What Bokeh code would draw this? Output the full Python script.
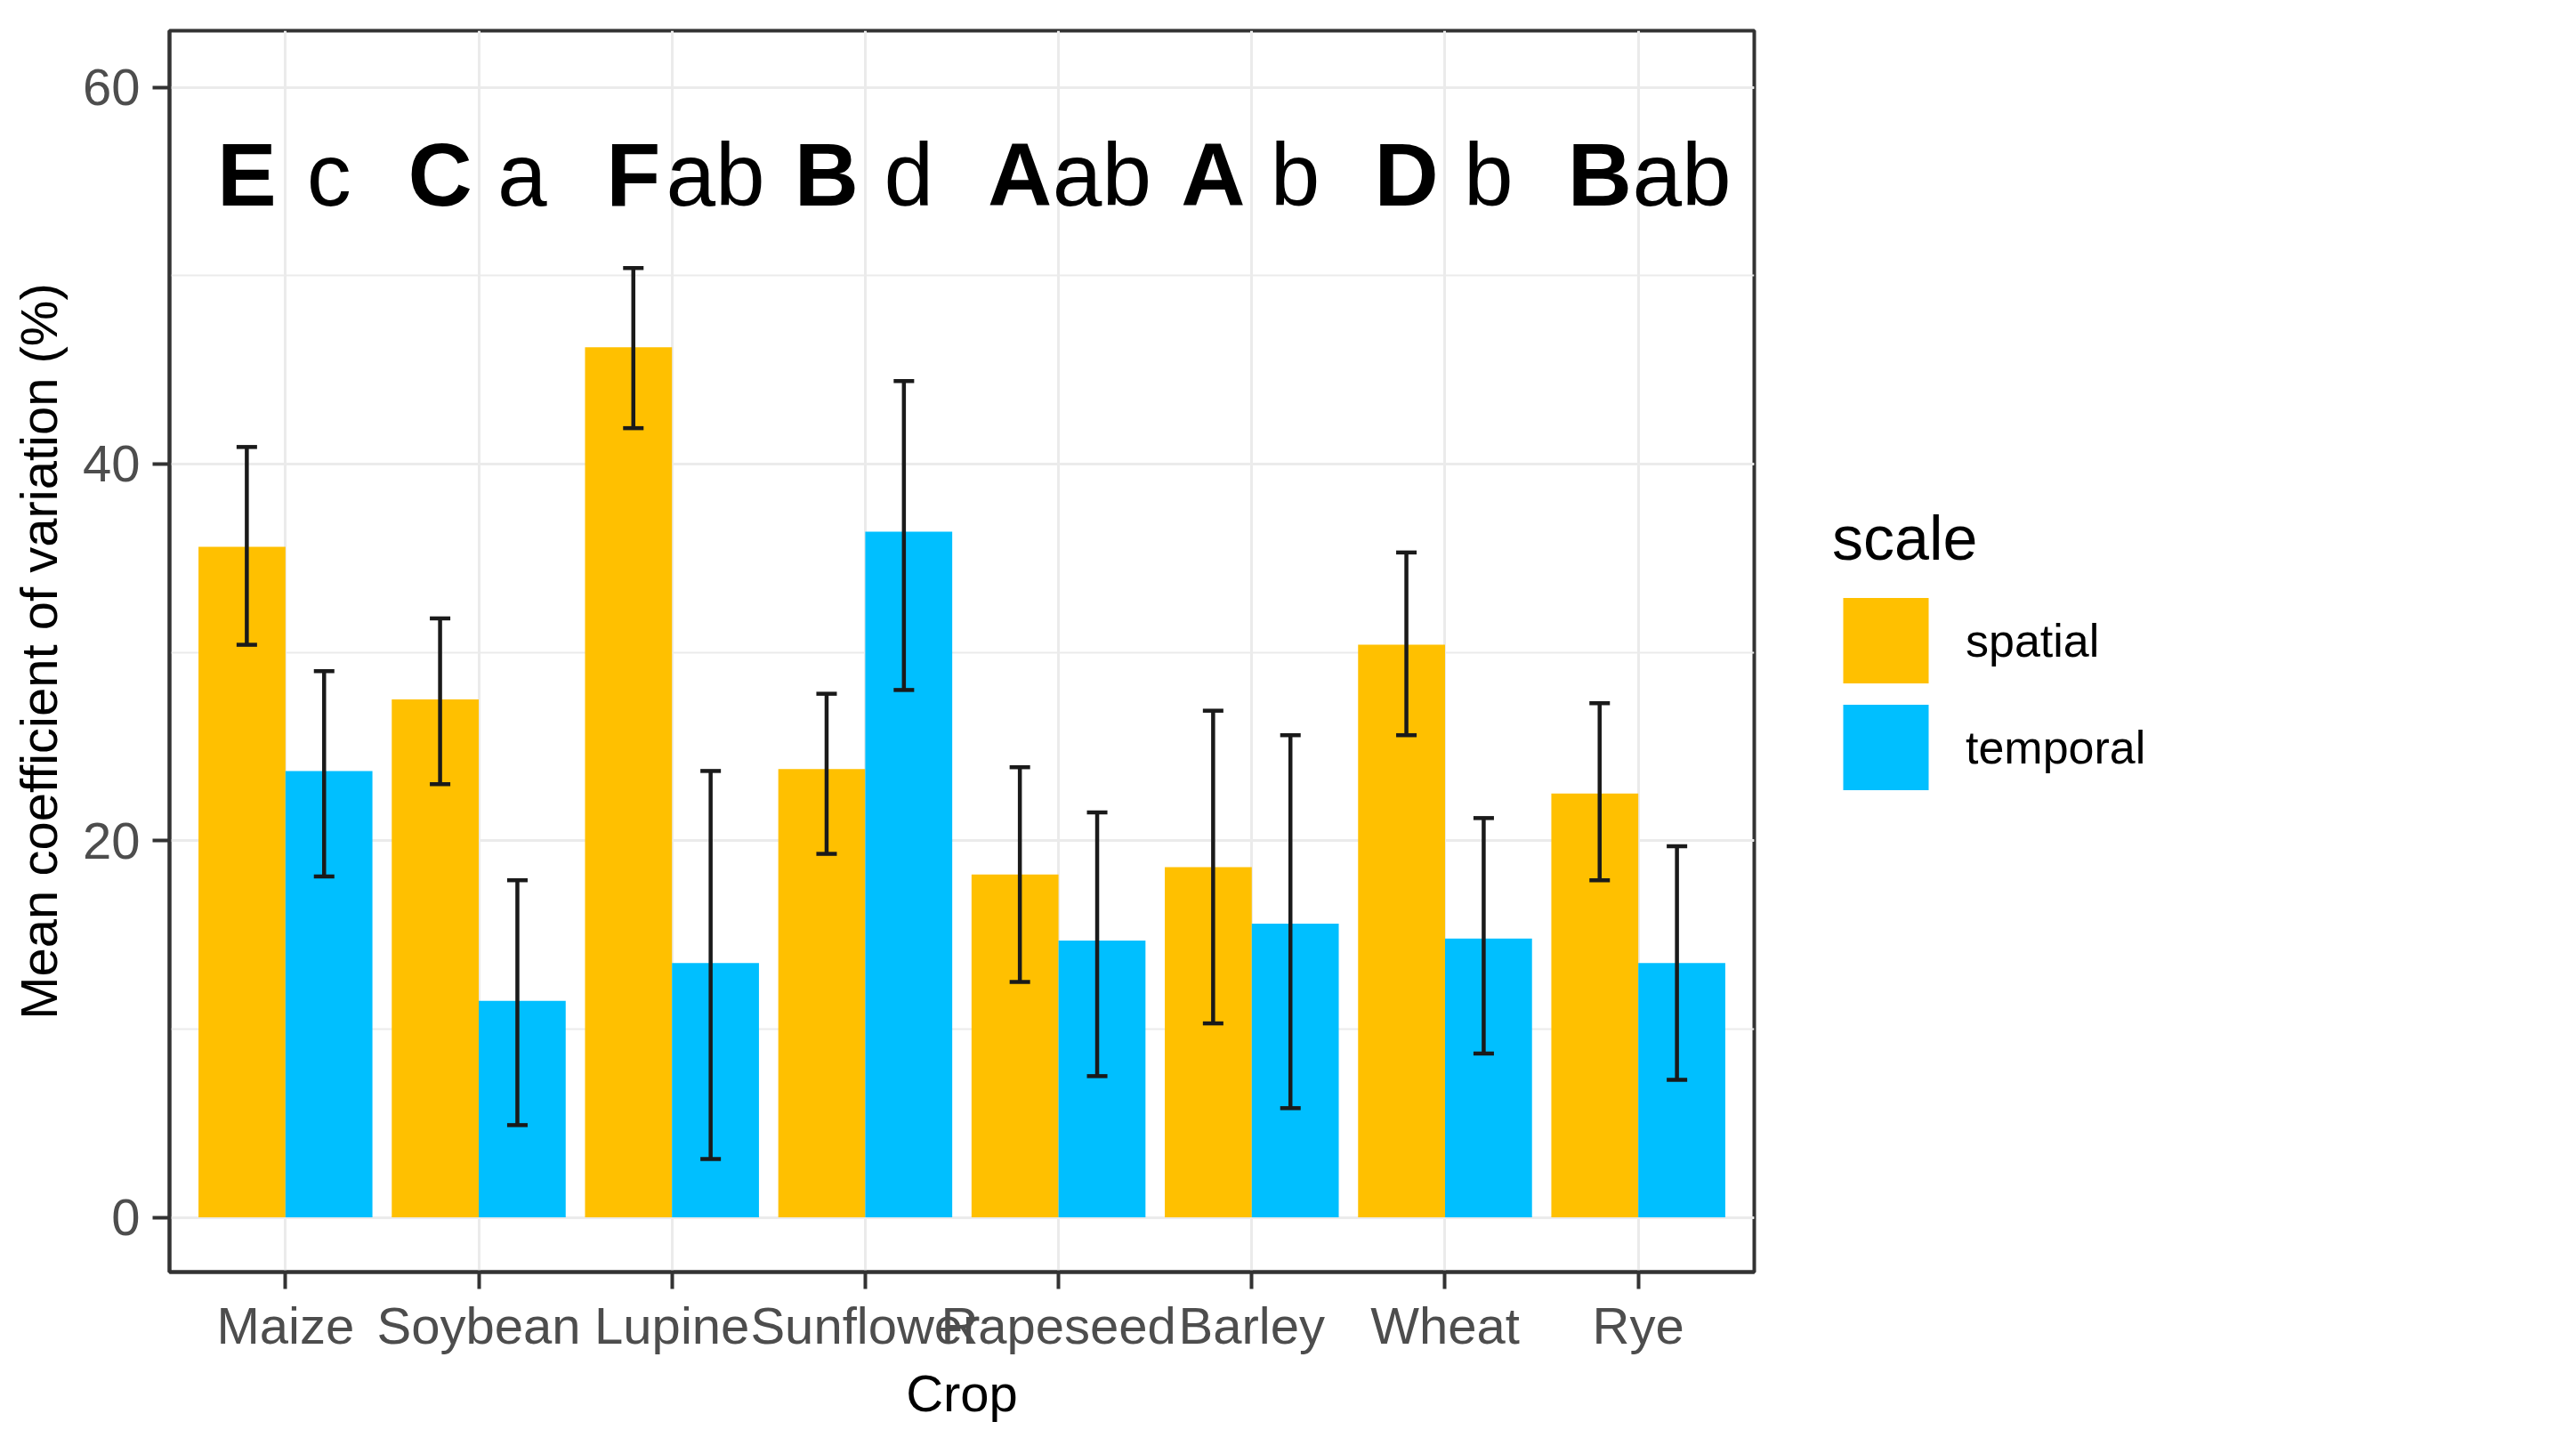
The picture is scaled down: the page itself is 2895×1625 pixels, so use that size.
from bokeh.plotting import figure
from bokeh.models import Range1d, ColumnDataSource, FactorRange, LabelSet, Legend, LegendItem
from bokeh.core.properties import value
from bokeh.transform import dodge
from bokeh.embed import file_html
from bokeh.resources import INLINE

crops = ["Maize", "Soybean", "Lupine", "Sunflower", "Rapeseed", "Barley", "Wheat", "Rye"]
spatial_mean = [35.6, 27.5, 46.2, 23.8, 18.2, 18.6, 30.4, 22.5]
spatial_lo = [30.4, 23.0, 41.9, 19.3, 12.5, 10.3, 25.6, 17.9]
spatial_hi = [40.9, 31.8, 50.4, 27.8, 23.9, 26.9, 35.3, 27.3]
temporal_mean = [23.7, 11.5, 13.5, 36.4, 14.7, 15.6, 14.8, 13.5]
temporal_lo = [18.1, 4.9, 3.1, 28.0, 7.5, 5.8, 8.7, 7.3]
temporal_hi = [29.0, 17.9, 23.7, 44.4, 21.5, 25.6, 21.2, 19.7]
spatial_letters = ["E", "C", "F", "B", "A", "A", "D", "B"]
temporal_letters = ["c", "a", "ab", "d", "ab", "b", "b", "ab"]
letter_y = 53.7

FONT = "Liberation Sans"
SPATIAL = "#FFC000"
TEMPORAL = "#00BFFF"
ERR = "#1A1A1A"

src = ColumnDataSource(dict(
    crop=crops,
    s_mean=spatial_mean, s_lo=spatial_lo, s_hi=spatial_hi,
    t_mean=temporal_mean, t_lo=temporal_lo, t_hi=temporal_hi,
    s_let=spatial_letters, t_let=temporal_letters,
    let_y=[letter_y] * len(crops),
))

xr = FactorRange(factors=crops, range_padding=0.1, range_padding_units="absolute")
p = figure(width=2879, height=1609, output_backend="svg", toolbar_location=None,
           x_range=xr, y_range=Range1d(-2.9, 63.0),
           min_border_left=190, min_border_right=0, min_border_top=34, min_border_bottom=180)
p.outline_line_color = "#333333"
p.outline_line_width = 4

p.xgrid.grid_line_color = "#EBEBEB"
p.xgrid.grid_line_width = 3
p.ygrid.grid_line_color = "#EBEBEB"
p.ygrid.grid_line_width = 3
p.ygrid.minor_grid_line_color = "#EBEBEB"
p.ygrid.minor_grid_line_width = 2
p.yaxis.ticker.desired_num_ticks = 4
p.yaxis.ticker.num_minor_ticks = 2

p.xaxis.axis_label = "Crop"
p.yaxis.axis_label = "Mean coefficient of variation (%)"
p.axis.axis_line_color = "#333333"
p.axis.axis_line_width = 4
p.axis.major_tick_line_color = "#333333"
p.axis.major_tick_line_width = 4
p.axis.major_tick_out = 19
p.axis.major_tick_in = 0
p.axis.minor_tick_line_color = None
p.axis.major_label_text_font = FONT
p.axis.major_label_text_font_size = "58px"
p.axis.major_label_text_color = "#4D4D4D"
p.axis.axis_label_text_font = FONT
p.axis.axis_label_text_font_size = "58px"
p.axis.axis_label_text_font_style = "normal"
p.axis.axis_label_text_color = "#000000"
p.xaxis.major_label_standoff = 8
p.yaxis.major_label_standoff = 14
p.xaxis.axis_label_standoff = 8
p.yaxis.axis_label_standoff = 14

r_sp = p.vbar(x=dodge("crop", -0.225, range=xr), top="s_mean", bottom=0, width=0.45,
              source=src, fill_color=SPATIAL, line_color=None)
r_tp = p.vbar(x=dodge("crop", 0.225, range=xr), top="t_mean", bottom=0, width=0.45,
              source=src, fill_color=TEMPORAL, line_color=None)

cap = 0.053
for off, lo, hi in ((-0.2, "s_lo", "s_hi"), (0.2, "t_lo", "t_hi")):
    p.segment(x0=dodge("crop", off, range=xr), y0=lo, x1=dodge("crop", off, range=xr), y1=hi,
              source=src, line_color=ERR, line_width=4.5)
    for yy in (lo, hi):
        p.segment(x0=dodge("crop", off - cap, range=xr), y0=yy,
                  x1=dodge("crop", off + cap, range=xr), y1=yy,
                  source=src, line_color=ERR, line_width=4.5)

# significance letters
lab_sp = LabelSet(x=dodge("crop", -0.2, range=xr), y="let_y", text="s_let", source=src,
                  text_font=value(FONT), text_font_size=value("75pt"),
                  text_font_style=value("bold"), text_color=value("#000000"),
                  text_align=value("center"), text_baseline=value("alphabetic"))
lab_tp = LabelSet(x=dodge("crop", 0.225, range=xr), y="let_y", text="t_let", source=src,
                  text_font=value(FONT), text_font_size=value("75pt"),
                  text_color=value("#000000"),
                  text_align=value("center"), text_baseline=value("alphabetic"))
p.add_layout(lab_sp)
p.add_layout(lab_tp)

legend = Legend(items=[LegendItem(label="spatial", renderers=[r_sp]),
                       LegendItem(label="temporal", renderers=[r_tp])],
                location="center_left")
legend.title = "scale"
legend.title_text_font = FONT
legend.title_text_font_size = "70px"
legend.title_text_font_style = "normal"
legend.title_text_color = "#000000"
legend.title_standoff = 15
legend.label_text_font = FONT
legend.label_text_font_size = "52px"
legend.label_text_color = "#000000"
legend.label_standoff = 30
legend.glyph_width = 120
legend.glyph_height = 120
legend.spacing = 0
legend.padding = 20
legend.margin = 88
legend.border_line_color = None
p.add_layout(legend, "right")

open("out.html", "w").write(file_html(p, INLINE))
